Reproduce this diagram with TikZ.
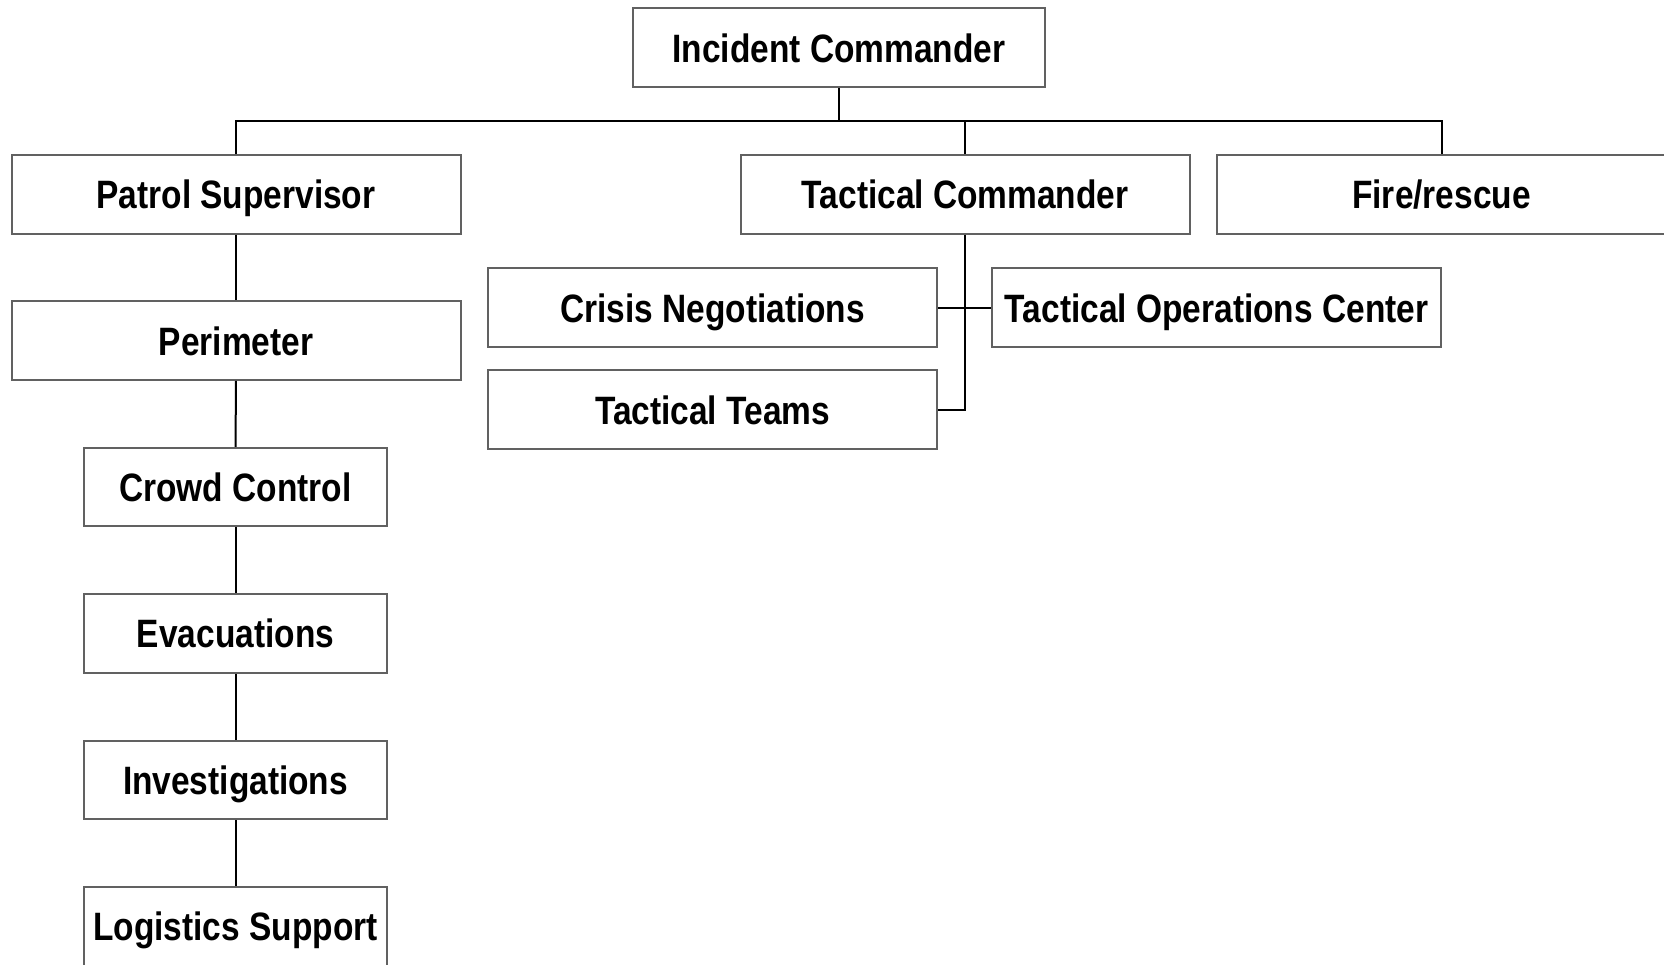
\documentclass[tikz,border=0pt]{standalone}
\usepackage{fontspec}
\setmainfont[FakeStretch=0.845]{Liberation Sans}
\begin{document}
\begin{tikzpicture}[x=0.5pt,y=-0.5pt,
  box/.style={draw=black!62, line width=1pt, fill=white, inner sep=0pt,
    text height=14.4pt, text depth=0pt,
    minimum height=39.25pt, font=\fontsize{19.8}{24}\selectfont\bfseries},
  wide/.style={box, minimum width=224.5pt},
  narrow/.style={box, minimum width=151.75pt},
  conn/.style={draw=black, line width=1pt}]
\useasboundingbox[fill=white] (0,0) rectangle (1664,964);
\node[box, minimum width=206.4pt] (IC) at (839,47.7) {Incident Commander};
\node[wide] (PS) at (236,194.3) {Patrol Supervisor};
\node[wide] (TC) at (965.2,194.3) {Tactical Commander};
\node[wide] (FR) at (1441.5,194.3) {Fire/rescue};
\node[wide] (PER) at (236,340.7) {Perimeter};
\node[narrow] (CC) at (235.5,487) {Crowd Control};
\node[narrow] (EV) at (235.5,633.5) {Evacuations};
\node[narrow] (INV) at (235.5,780) {Investigations};
\node[narrow] (LS) at (235.5,926.4) {Logistics Support};
\node[wide] (CN) at (712.6,307.7) {Crisis Negotiations};
\node[wide] (TT) at (712.6,409.6) {Tactical Teams};
\node[wide] (TOC) at (1216.6,307.7) {Tactical Operations Center};
\coordinate (bus) at (839,121);
\draw[conn] (IC.south) -- (bus);
\draw[conn] (PS.north) |- (bus) -| (FR.north);
\draw[conn] (bus -| TC.north) -- (TC.north);
\draw[conn] (TC.south) |- (TT.east);
\draw[conn] (CN.east) -- (TOC.west);
\draw[conn] (PS) -- (PER);
\draw[conn] (PER) -- (CC);
\draw[conn] (CC) -- (EV);
\draw[conn] (EV) -- (INV);
\draw[conn] (INV) -- (LS);
\end{tikzpicture}
\end{document}
